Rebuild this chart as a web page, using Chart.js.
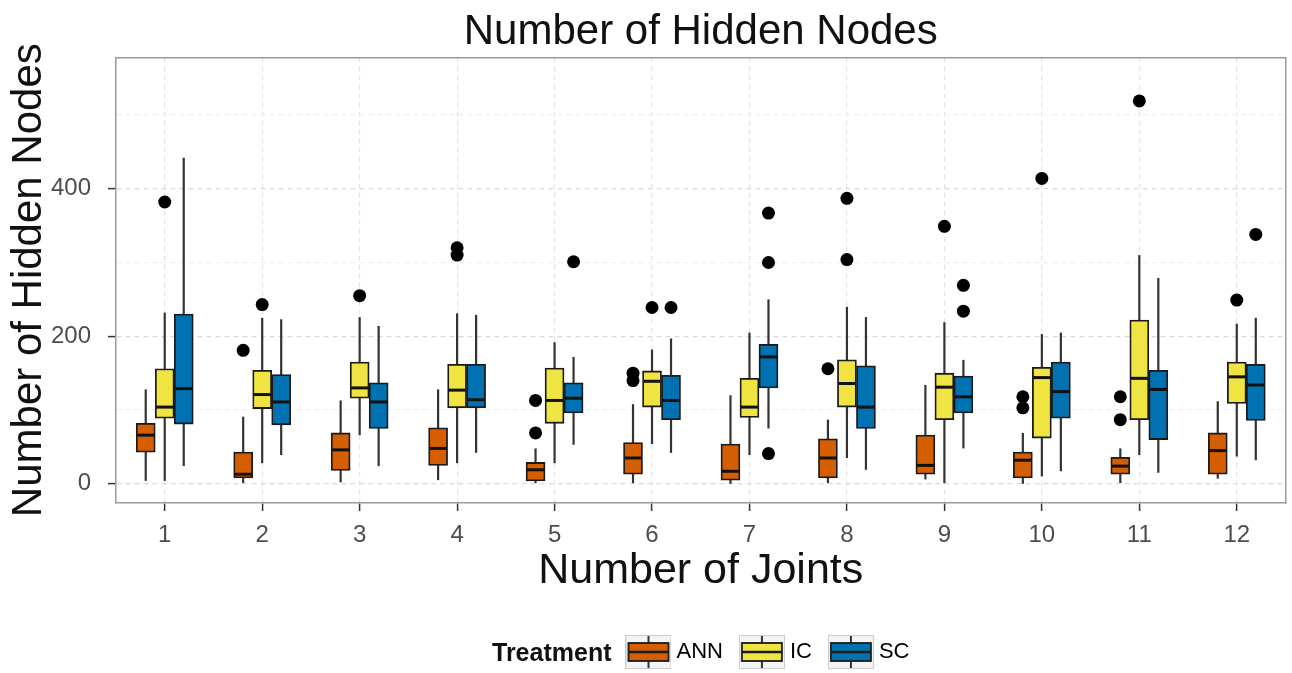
<!DOCTYPE html>
<html>
<head>
<meta charset="utf-8">
<script src="https://cdn.jsdelivr.net/npm/chart.js@4.4.0/dist/chart.umd.min.js"></script>
<style>
  body { margin: 0; background: #fff; }
  #wrap { width: 1292px; height: 673px; }
</style>
</head>
<body>
<div id="wrap"><canvas id="nodesChart" width="1292" height="673"></canvas></div>
<script>
// Categorías (número de articulaciones) y tratamientos
const joints = ['1', '2', '3', '4', '5', '6', '7', '8', '9', '10', '11', '12'];
const treatments = ['ANN', 'IC', 'SC'];
const colors = ['#D55E00', '#F0E442', '#0072B2'];

// Cada caja: [bigote inferior, Q1, mediana, Q3, bigote superior]
const annBoxes = [
    [4, 43, 66, 82, 128], [1, 8, 13, 43, 91], [2, 18, 46, 69, 113], [5, 25, 48, 76, 128],
    [1, 4, 19, 29, 48], [1, 13, 35, 56, 108], [0, 5, 17, 54, 120], [1, 8, 35, 61, 87],
    [6, 13, 25, 66, 134], [0, 8, 32, 43, 69], [1, 13, 24, 36, 48], [7, 13, 45, 69, 112]
];
const icBoxes = [
    [4, 89, 104, 156, 232], [28, 102, 121, 154, 225], [66, 116, 130, 165, 226], [28, 103, 127, 162, 231],
    [28, 82, 113, 157, 192], [54, 104, 139, 153, 182], [39, 90, 104, 143, 205], [35, 104, 136, 168, 240],
    [1, 87, 131, 150, 219], [10, 62, 144, 158, 203], [39, 87, 143, 222, 310], [37, 109, 145, 165, 217]
];
const scBoxes = [
    [24, 81, 129, 230, 442], [39, 80, 111, 148, 223], [24, 75, 111, 137, 214], [42, 103, 114, 162, 229],
    [53, 96, 116, 137, 172], [42, 87, 113, 147, 197], [75, 130, 172, 189, 250], [19, 75, 104, 160, 226],
    [48, 96, 118, 146, 168], [17, 89, 125, 165, 205], [15, 60, 128, 154, 279], [32, 86, 134, 162, 225]
];

// Valores atípicos por categoría
const annOutliers = [[], [181], [], [], [113, 69], [150, 140], [], [156], [], [118, 103], [118, 87], []];
const icOutliers = [[382], [243], [255], [320, 310], [], [239], [], [387, 304], [349], [414], [519], [249]];
const scOutliers = [[], [], [], [], [301], [239], [367, 300, 41], [], [269, 234], [], [], [338]];

const yTicks = [0, 200, 400];
const yGrid = [0, 100, 200, 300, 400, 500];

Chart.defaults.font.family = "'Liberation Sans', Arial, Helvetica, sans-serif";

const boxSets = [annBoxes, icBoxes, scBoxes];
const outlierSets = [annOutliers, icOutliers, scOutliers];
const dodge = 0.195; // separación entre cajas del mismo grupo

const datasets = treatments.map((name, k) => ({
    type: 'bar',
    label: name,
    xAxisID: 'x',
    data: boxSets[k].map((b, i) => ({ x: i + (k - 1) * dodge, y: [b[1], b[3]] })),
    boxes: boxSets[k],
    backgroundColor: colors[k],
    borderColor: '#1a1a1a',
    borderWidth: 1.8,
    borderSkipped: false,
    grouped: false,
    barThickness: 19,
    order: 1
}));

// Puntos atípicos, desplazados igual que las cajas
const outlierPoints = [];
outlierSets.forEach((set, k) => {
    set.forEach((vals, i) => {
        vals.forEach(v => outlierPoints.push({ x: i + (k - 1) * dodge, y: v }));
    });
});
datasets.unshift({
    type: 'scatter',
    label: 'outliers',
    data: outlierPoints,
    xAxisID: 'x',
    backgroundColor: '#000',
    borderWidth: 0,
    pointRadius: 6.5,
    order: 0
});

// Bigotes y medianas
const boxPlugin = {
    id: 'boxWhiskers',
    beforeDatasetsDraw(chart) {
        const { ctx, scales: { y } } = chart;
        chart.data.datasets.forEach((ds, i) => {
            if (!ds.boxes) return;
            const meta = chart.getDatasetMeta(i);
            ctx.save();
            ctx.strokeStyle = '#333';
            ctx.lineWidth = 2.2;
            meta.data.forEach((bar, j) => {
                const b = ds.boxes[j];
                ctx.beginPath();
                ctx.moveTo(bar.x, y.getPixelForValue(b[0]));
                ctx.lineTo(bar.x, y.getPixelForValue(b[4]));
                ctx.stroke();
            });
            ctx.restore();
        });
    },
    afterDatasetDraw(chart, args) {
        const ds = chart.data.datasets[args.index];
        if (!ds.boxes) return;
        const { ctx, scales: { y } } = chart;
        ctx.save();
        ctx.strokeStyle = '#111';
        ctx.lineWidth = 3;
        args.meta.data.forEach((bar, j) => {
            const py = y.getPixelForValue(ds.boxes[j][2]);
            ctx.beginPath();
            ctx.moveTo(bar.x - bar.width / 2 + 1, py);
            ctx.lineTo(bar.x + bar.width / 2 - 1, py);
            ctx.stroke();
        });
        ctx.restore();
    }
};

// Iconos de la leyenda (mini diagrama de caja)
function makeKey(color) {
    const c = document.createElement('canvas');
    c.width = 46;
    c.height = 34;
    const g = c.getContext('2d');
    g.fillStyle = '#f4f4f4';
    g.fillRect(0, 0, 46, 34);
    g.strokeStyle = '#cccccc';
    g.lineWidth = 1;
    g.strokeRect(0.5, 0.5, 45, 33);
    g.strokeStyle = '#333';
    g.lineWidth = 2;
    g.beginPath();
    g.moveTo(23, 1);
    g.lineTo(23, 33);
    g.stroke();
    g.fillStyle = color;
    g.fillRect(3, 8, 40, 18);
    g.strokeStyle = '#1a1a1a';
    g.lineWidth = 1.8;
    g.strokeRect(3, 8, 40, 18);
    g.lineWidth = 2.5;
    g.beginPath();
    g.moveTo(3, 17);
    g.lineTo(43, 17);
    g.stroke();
    return c;
}
const keys = colors.map(makeKey);
const keyOverhang = 6; // el icono (46px) sobresale del hueco reservado (34px)

const legendTitleFont = "bold 25px 'Liberation Sans', Arial, sans-serif";
const legendTitle = {
    id: 'legendTitle',
    afterLayout(chart) {
        const lg = chart.legend;
        const ctx = chart.ctx;
        ctx.save();
        ctx.font = legendTitleFont;
        const tw = ctx.measureText('Treatment').width;
        ctx.restore();
        const pad = lg.options.labels.padding;
        const gap = 14;
        const total = tw + gap + keyOverhang + lg.lineWidths[0] - pad;
        const mid = (chart.chartArea.left + chart.chartArea.right) / 2;
        const start = mid - total / 2;
        const w = lg.right - lg.left;
        lg.left = start + tw + gap + keyOverhang - pad;
        lg.right = lg.left + w;
        chart.$legendTitleX = start;
    },
    afterDraw(chart) {
        const lg = chart.legend;
        const ctx = chart.ctx;
        const fs = lg.options.labels.font.size;
        ctx.save();
        ctx.font = legendTitleFont;
        ctx.fillStyle = '#111';
        ctx.textBaseline = 'middle';
        ctx.fillText('Treatment', chart.$legendTitleX, lg.top + lg.options.labels.padding + fs / 2 + 2);
        ctx.restore();
    }
};

const ctx = document.getElementById('nodesChart').getContext('2d');
const chart = new Chart(ctx, {
    type: 'bar',
    data: {
        datasets: datasets
    },
    options: {
        responsive: false,
        animation: false,
        layout: { padding: { right: 4 } },
        plugins: {
            title: {
                display: true,
                fullSize: false,
                text: 'Number of Hidden Nodes',
                color: '#111',
                font: { size: 42, weight: 'normal' },
                padding: { top: 7, bottom: 0 }
            },
            legend: {
                position: 'bottom',
                align: 'start',
                labels: {
                    usePointStyle: true,
                    pointStyleWidth: 34,
                    padding: 22,
                    color: '#111',
                    font: { size: 22 },
                    generateLabels: () => treatments.map((t, k) => ({
                        text: t,
                        pointStyle: keys[k],
                        fillStyle: colors[k],
                        strokeStyle: '#1a1a1a',
                        lineWidth: 0,
                        hidden: false,
                        datasetIndex: k + 1
                    }))
                }
            },
            tooltip: { enabled: false }
        },
        scales: {
            x: {
                type: 'linear',
                min: -0.5,
                max: 11.5,
                offset: false,
                afterBuildTicks: s => { s.ticks = joints.map((j, i) => ({ value: i })); },
                afterFit: s => { s.height = 116; },
                grid: { offset: false, color: '#e3e3e3', lineWidth: 1.2, tickLength: 8, tickWidth: 1.5, tickColor: '#333' },
                border: { color: '#9a9a9a', width: 1.5, dash: [5, 4] },
                ticks: { color: '#4d4d4d', font: { size: 24 }, padding: 10, callback: v => joints[v] },
                title: {
                    display: true,
                    text: 'Number of Joints',
                    color: '#111',
                    font: { size: 43 },
                    padding: { top: 0, bottom: 22 }
                }
            },
            xt: {
                type: 'linear',
                position: 'top',
                min: -0.5,
                max: 11.5,
                offset: false,
                grid: { display: false, drawTicks: false, offset: false },
                ticks: { display: false },
                border: { color: '#9a9a9a', width: 1.5 }
            },
            y: {
                min: -26,
                max: 578,
                afterBuildTicks: s => { s.ticks = yGrid.map(v => ({ value: v })); },
                afterFit: s => { s.width = 116; },
                ticks: {
                    color: '#4d4d4d',
                    font: { size: 24 },
                    padding: 17,
                    callback: v => yTicks.includes(v) ? v : ''
                },
                grid: {
                    color: c => (c.tick && yTicks.includes(c.tick.value)) ? '#dadada' : '#efefef',
                    lineWidth: 1.2,
                    tickLength: 8,
                    tickWidth: 1.5,
                    tickColor: c => (c.tick && yTicks.includes(c.tick.value)) ? '#333' : 'rgba(0,0,0,0)'
                },
                border: { color: '#9a9a9a', width: 1.5, dash: [5, 4] },
                title: {
                    display: true,
                    text: 'Number of Hidden Nodes',
                    color: '#111',
                    font: { size: 42 },
                    padding: { top: 4, bottom: 0 }
                }
            },
            yr: {
                type: 'linear',
                position: 'right',
                min: -26,
                max: 578,
                grid: { display: false, drawTicks: false },
                ticks: { display: false },
                border: { color: '#9a9a9a', width: 1.5 }
            }
        }
    },
    plugins: [boxPlugin, legendTitle]
});
</script>
</body>
</html>
